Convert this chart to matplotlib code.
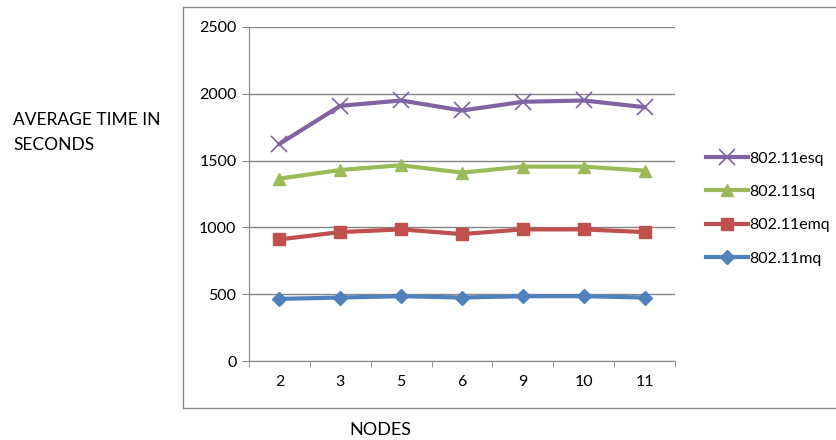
import matplotlib
matplotlib.use("Agg")
import matplotlib.pyplot as plt
from matplotlib.lines import Line2D

plt.rcParams['font.family'] = ['Lato', 'DejaVu Sans']

nodes = ['2', '3', '5', '6', '9', '10', '11']
mq = [465, 475, 485, 475, 485, 485, 475]
emq = [910, 965, 985, 950, 985, 985, 965]
sq = [1365, 1430, 1465, 1410, 1455, 1455, 1425]
esq = [1625, 1910, 1950, 1875, 1940, 1950, 1900]

fig = plt.figure(figsize=(8.36, 4.4), dpi=100)
ax = fig.add_axes([249/836, 1-361/440, 426/836, 334/440])

x = range(len(nodes))
l_mq, = ax.plot(x, mq, color='#4F81BD', lw=3, marker='D', ms=7, label='802.11mq')
l_emq, = ax.plot(x, emq, color='#C0504D', lw=3, marker='s', ms=8, label='802.11emq')
l_sq, = ax.plot(x, sq, color='#9BBB59', lw=3, marker='^', ms=9, label='802.11sq')
l_esq, = ax.plot(x, esq, color='#8064A2', lw=3, marker='x', ms=11, mew=1.2, label='802.11esq')

ax.set_xlim(-0.5, len(nodes) - 0.5)
ax.set_ylim(0, 2500)
ax.set_yticks(range(0, 2501, 500))
ax.set_xticks(list(x))
ax.set_xticklabels(nodes)
ax.set_xticks([i - 0.5 for i in range(len(nodes) + 1)], minor=True)
ax.tick_params(axis='x', which='major', length=0, pad=10, labelsize=11.5)
ax.tick_params(axis='x', which='minor', length=4, color='#868686', direction='out')
ax.tick_params(axis='y', length=5, color='#868686', labelsize=11.5, pad=4)
ax.yaxis.grid(True, color='#868686', lw=1)
ax.set_axisbelow(True)
for s in ['top', 'right']:
    ax.spines[s].set_visible(False)
for s in ['left', 'bottom']:
    ax.spines[s].set_color('#868686')

# chart frame
fc = '#868686'
fig.add_artist(Line2D([183/836, 183/836], [1-408/440, 1-7/440], color=fc, lw=1))
fig.add_artist(Line2D([183/836, 1], [1-7/440, 1-7/440], color=fc, lw=1))
fig.add_artist(Line2D([183/836, 1], [1-408/440, 1-408/440], color=fc, lw=1))

fig.text(13/836, 1-120/440, 'AVERAGE TIME IN', fontsize=12.5, va='center', ha='left')
fig.text(13/836, 1-145/440, 'SECONDS', fontsize=12.5, va='center', ha='left')
fig.text(380/836, 1-430/440, 'NODES', fontsize=13, va='center', ha='center')

fig.legend(handles=[l_esq, l_sq, l_emq, l_mq], loc='upper left',
           bbox_to_anchor=(692/836, 1-137/440), frameon=False, fontsize=11.5,
           handlelength=2.6, labelspacing=1.2, handletextpad=0.1)

fig.savefig('out.png', dpi=100)
